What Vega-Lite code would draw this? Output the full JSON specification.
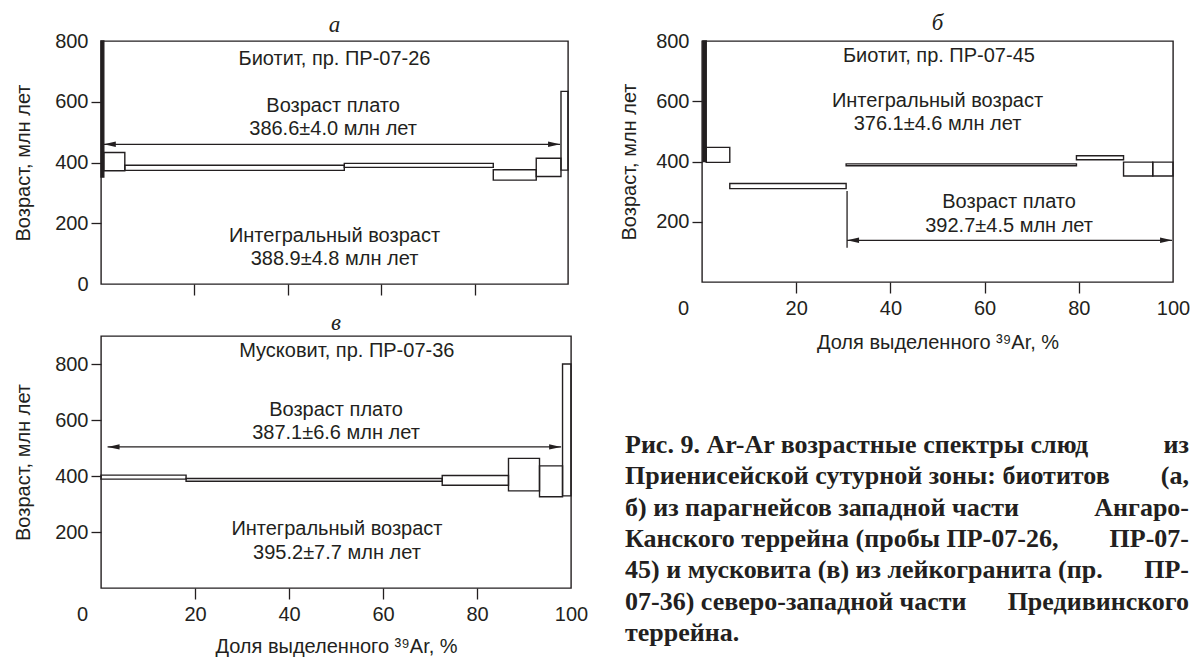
{
  "$schema": "https://vega.github.io/schema/vega-lite/v6.json",
  "background": "white",
  "padding": {"left": 12, "top": 11, "right": 0, "bottom": 0},
  "spacing": 29,
  "config": {
    "font": "Liberation Sans",
    "view": {"stroke": "#231f20", "strokeWidth": 1.4},
    "axis": {"domain": false, "grid": false, "labelOverlap": false, "labelFlush": false, "tickColor": "#231f20", "tickWidth": 1.3, "tickSize": 10, "labelColor": "#231f20", "titleColor": "#231f20", "labelFont": "Liberation Sans", "labelFontSize": 20, "titleFont": "Liberation Sans", "titleFontSize": 20, "titleFontWeight": "normal"},
    "title": {"font": "Liberation Serif", "fontStyle": "italic", "fontSize": 23, "fontWeight": "normal", "color": "#231f20", "baseline": "alphabetic", "anchor": "middle"},
    "text": {"font": "Liberation Sans", "fontSize": 20, "color": "#231f20"}
  },
  "datasets": {
    "steps": [
      {"panel": "a", "x0": 0, "x1": 0.6, "lo": 352, "hi": 800},
      {"panel": "a", "x0": 0.6, "x1": 5.1, "lo": 373, "hi": 433},
      {"panel": "a", "x0": 5.1, "x1": 52.1, "lo": 374, "hi": 391},
      {"panel": "a", "x0": 52.1, "x1": 84.0, "lo": 384, "hi": 397},
      {"panel": "a", "x0": 84.0, "x1": 93.2, "lo": 342, "hi": 376},
      {"panel": "a", "x0": 93.2, "x1": 98.5, "lo": 354, "hi": 414},
      {"panel": "a", "x0": 98.5, "x1": 100, "lo": 375, "hi": 634},
      {"panel": "b", "x0": 0.2, "x1": 0.9, "lo": 400, "hi": 800},
      {"panel": "b", "x0": 0.9, "x1": 5.9, "lo": 397, "hi": 447},
      {"panel": "b", "x0": 5.9, "x1": 30.6, "lo": 310, "hi": 327},
      {"panel": "b", "x0": 30.6, "x1": 79.5, "lo": 386, "hi": 392},
      {"panel": "b", "x0": 79.5, "x1": 89.5, "lo": 406, "hi": 419},
      {"panel": "b", "x0": 89.5, "x1": 95.7, "lo": 352, "hi": 398},
      {"panel": "b", "x0": 95.7, "x1": 100, "lo": 352, "hi": 398},
      {"panel": "c", "x0": 0, "x1": 18.1, "lo": 389, "hi": 403},
      {"panel": "c", "x0": 18.1, "x1": 72.6, "lo": 381, "hi": 391},
      {"panel": "c", "x0": 72.6, "x1": 86.7, "lo": 367, "hi": 402},
      {"panel": "c", "x0": 86.7, "x1": 93.3, "lo": 347, "hi": 463},
      {"panel": "c", "x0": 93.3, "x1": 98.2, "lo": 326, "hi": 436},
      {"panel": "c", "x0": 98.2, "x1": 100, "lo": 329, "hi": 800}
    ],
    "rules": [
      {"panel": "a", "x0": 0.6, "x1": 98.3, "y0": 460, "y1": 460},
      {"panel": "b", "x0": 30.8, "x1": 99.8, "y0": 138.5, "y1": 138.5},
      {"panel": "b", "x0": 30.8, "x1": 30.8, "y0": 114, "y1": 302},
      {"panel": "c", "x0": 1.4, "x1": 97.9, "y0": 504, "y1": 504}
    ],
    "heads": [
      {"panel": "a", "x": 0.6, "y": 460, "dir": "L"},
      {"panel": "a", "x": 98.3, "y": 460, "dir": "R"},
      {"panel": "b", "x": 30.8, "y": 138.5, "dir": "L"},
      {"panel": "b", "x": 99.8, "y": 138.5, "dir": "R"},
      {"panel": "c", "x": 1.4, "y": 504, "dir": "L"},
      {"panel": "c", "x": 97.9, "y": 504, "dir": "R"}
    ],
    "labels": [
      {"panel": "a", "x": 50, "y": 740, "text": "Биотит, пр. ПР-07-26"},
      {"panel": "a", "x": 49.7, "y": 587, "text": "Возраст плато"},
      {"panel": "a", "x": 49.7, "y": 510, "text": "386.6±4.0 млн лет"},
      {"panel": "a", "x": 50, "y": 159, "text": "Интегральный возраст"},
      {"panel": "a", "x": 50, "y": 82, "text": "388.9±4.8 млн лет"},
      {"panel": "b", "x": 50.3, "y": 751, "text": "Биотит, пр. ПР-07-45"},
      {"panel": "b", "x": 50, "y": 602, "text": "Интегральный возраст"},
      {"panel": "b", "x": 50, "y": 524, "text": "376.1±4.6 млн лет"},
      {"panel": "b", "x": 65.2, "y": 264, "text": "Возраст плато"},
      {"panel": "b", "x": 65.2, "y": 186, "text": "392.7±4.5 млн лет"},
      {"panel": "c", "x": 52.3, "y": 845, "text": "Мусковит, пр. ПР-07-36"},
      {"panel": "c", "x": 50, "y": 637, "text": "Возраст плато"},
      {"panel": "c", "x": 50, "y": 554, "text": "387.1±6.6 млн лет"},
      {"panel": "c", "x": 50.2, "y": 210, "text": "Интегральный возраст"},
      {"panel": "c", "x": 50.2, "y": 125, "text": "395.2±7.7 млн лет"}
    ],
    "caption": [
      {"line": 1, "left": "Рис. 9. Ar-Ar возрастные спектры слюд", "right": "из"},
      {"line": 2, "left": "Приенисейской сутурной зоны: биотитов", "right": "(а,"},
      {"line": 3, "left": "б) из парагнейсов западной части", "right": "Ангаро-"},
      {"line": 4, "left": "Канского террейна (пробы ПР-07-26,", "right": "ПР-07-"},
      {"line": 5, "left": "45) и мусковита (в) из лейкогранита (пр.", "right": "ПР-"},
      {"line": 6, "left": "07-36) северо-западной части", "right": "Предивинского"},
      {"line": 7, "left": "террейна.", "right": ""}
    ]
  },
  "hconcat": [
    {
      "spacing": 14,
      "vconcat": [
        {
          "title": {"text": "а", "offset": -6},
          "width": 467,
          "height": 243,
          "layer": [
            {
              "data": {"name": "steps"},
              "transform": [{"filter": "datum.panel == 'a'"}],
              "mark": {"type": "rect", "fill": "#231f20", "stroke": "#231f20", "strokeWidth": 1.4},
              "encoding": {
                "x": {"field": "x0", "type": "quantitative", "scale": {"domain": [0, 100], "nice": false},
                      "axis": {"values": [20, 40, 60, 80], "labels": false, "title": null, "tickSize": 11}},
                "x2": {"field": "x1"},
                "y": {"field": "lo", "type": "quantitative", "scale": {"domain": [0, 800], "nice": false},
                      "axis": {"values": [0, 100, 200, 300, 400, 500, 600, 700, 800], "labelOverlap": false,
                               "labelExpr": "datum.value % 200 == 0 ? datum.label : ''",
                               "tickOpacity": {"condition": {"test": "datum.value == 0 || datum.value == 800", "value": 0}, "value": 1},
                               "labelPadding": 3, "title": "Возраст,   млн лет", "titlePadding": 21}},
                "y2": {"field": "hi"},
                "fillOpacity": {"condition": {"test": "datum.x1 - datum.x0 < 1", "value": 1}, "value": 0}
              }
            },
            {
              "data": {"name": "rules"},
              "transform": [{"filter": "datum.panel == 'a'"}],
              "mark": {"type": "rule", "stroke": "#231f20", "strokeWidth": 1.3},
              "encoding": {"x": {"field": "x0", "type": "quantitative"}, "x2": {"field": "x1"}, "y": {"field": "y0", "type": "quantitative"}, "y2": {"field": "y1"}}
            },
            {
              "data": {"name": "heads"},
              "transform": [{"filter": "datum.panel == 'a'"}],
              "mark": {"type": "point", "filled": true, "color": "#231f20", "size": 144, "opacity": 1},
              "encoding": {"x": {"field": "x", "type": "quantitative"}, "y": {"field": "y", "type": "quantitative"},
                           "shape": {"field": "dir", "type": "nominal", "scale": {"domain": ["L", "R"], "range": ["M0,0L2,-0.45L2,0.45Z", "M0,0L-2,-0.45L-2,0.45Z"]}, "legend": null}}
            },
            {
              "data": {"name": "labels"},
              "transform": [{"filter": "datum.panel == 'a'"}],
              "mark": {"type": "text", "align": "center", "baseline": "middle"},
              "encoding": {"x": {"field": "x", "type": "quantitative"}, "y": {"field": "y", "type": "quantitative"}, "text": {"field": "text"}}
            }
          ]
        },
        {
          "title": {"text": "в", "offset": 1},
          "width": 470,
          "height": 252,
          "layer": [
            {
              "data": {"name": "steps"},
              "transform": [{"filter": "datum.panel == 'c'"}],
              "mark": {"type": "rect", "fill": "#231f20", "stroke": "#231f20", "strokeWidth": 1.4},
              "encoding": {
                "x": {"field": "x0", "type": "quantitative", "scale": {"domain": [0, 100], "nice": false},
                      "axis": {"values": [0, 20, 40, 60, 80, 100], "tickSize": 11, "labelPadding": 5, "labelOverlap": false,
                               "tickOpacity": {"condition": {"test": "datum.value == 0 || datum.value == 100", "value": 0}, "value": 1},
                               "labelOffset": {"condition": {"test": "datum.value == 0", "value": -19}, "value": 0},
                               "title": "Доля выделенного ³⁹Ar, %", "titlePadding": 12}},
                "x2": {"field": "x1"},
                "y": {"field": "lo", "type": "quantitative", "scale": {"domain": [0, 900], "nice": false},
                      "axis": {"values": [0, 100, 200, 300, 400, 500, 600, 700, 800, 900], "labelOverlap": false,
                               "labelExpr": "datum.value % 200 == 0 && datum.value > 0 ? datum.label : ''",
                               "tickOpacity": {"condition": {"test": "datum.value == 0 || datum.value == 900", "value": 0}, "value": 1},
                               "labelPadding": 3, "title": "Возраст,   млн лет", "titlePadding": 21}},
                "y2": {"field": "hi"},
                "fillOpacity": {"condition": {"test": "datum.x1 - datum.x0 < 1", "value": 1}, "value": 0}
              }
            },
            {
              "data": {"name": "rules"},
              "transform": [{"filter": "datum.panel == 'c'"}],
              "mark": {"type": "rule", "stroke": "#231f20", "strokeWidth": 1.3},
              "encoding": {"x": {"field": "x0", "type": "quantitative"}, "x2": {"field": "x1"}, "y": {"field": "y0", "type": "quantitative"}, "y2": {"field": "y1"}}
            },
            {
              "data": {"name": "heads"},
              "transform": [{"filter": "datum.panel == 'c'"}],
              "mark": {"type": "point", "filled": true, "color": "#231f20", "size": 144, "opacity": 1},
              "encoding": {"x": {"field": "x", "type": "quantitative"}, "y": {"field": "y", "type": "quantitative"},
                           "shape": {"field": "dir", "type": "nominal", "scale": {"domain": ["L", "R"], "range": ["M0,0L2,-0.45L2,0.45Z", "M0,0L-2,-0.45L-2,0.45Z"]}, "legend": null}}
            },
            {
              "data": {"name": "labels"},
              "transform": [{"filter": "datum.panel == 'c'"}],
              "mark": {"type": "text", "align": "center", "baseline": "middle"},
              "encoding": {"x": {"field": "x", "type": "quantitative"}, "y": {"field": "y", "type": "quantitative"}, "text": {"field": "text"}}
            }
          ]
        }
      ]
    },
    {
      "spacing": 78,
      "vconcat": [
        {
          "title": {"text": "б", "offset": -4},
          "width": 471,
          "height": 241,
          "layer": [
            {
              "data": {"name": "steps"},
              "transform": [{"filter": "datum.panel == 'b'"}],
              "mark": {"type": "rect", "fill": "#231f20", "stroke": "#231f20", "strokeWidth": 1.4},
              "encoding": {
                "x": {"field": "x0", "type": "quantitative", "scale": {"domain": [0, 100], "nice": false},
                      "axis": {"values": [0, 20, 40, 60, 80, 100], "tickSize": 11, "labelPadding": 5, "labelOverlap": false,
                               "tickOpacity": {"condition": {"test": "datum.value == 0 || datum.value == 100", "value": 0}, "value": 1},
                               "labelOffset": {"condition": {"test": "datum.value == 0", "value": -19}, "value": 0},
                               "title": "Доля выделенного ³⁹Ar, %", "titlePadding": 14}},
                "x2": {"field": "x1"},
                "y": {"field": "lo", "type": "quantitative", "scale": {"domain": [0, 800], "nice": false},
                      "axis": {"values": [0, 100, 200, 300, 400, 500, 600, 700, 800], "labelOverlap": false,
                               "labelExpr": "datum.value % 200 == 0 && datum.value > 0 ? datum.label : ''",
                               "tickOpacity": {"condition": {"test": "datum.value == 0 || datum.value == 800", "value": 0}, "value": 1},
                               "labelPadding": 3, "title": "Возраст,   млн лет", "titlePadding": 16}},
                "y2": {"field": "hi"},
                "fillOpacity": {"condition": {"test": "datum.x1 - datum.x0 < 1", "value": 1}, "value": 0}
              }
            },
            {
              "data": {"name": "rules"},
              "transform": [{"filter": "datum.panel == 'b'"}],
              "mark": {"type": "rule", "stroke": "#231f20", "strokeWidth": 1.3},
              "encoding": {"x": {"field": "x0", "type": "quantitative"}, "x2": {"field": "x1"}, "y": {"field": "y0", "type": "quantitative"}, "y2": {"field": "y1"}}
            },
            {
              "data": {"name": "heads"},
              "transform": [{"filter": "datum.panel == 'b'"}],
              "mark": {"type": "point", "filled": true, "color": "#231f20", "size": 144, "opacity": 1},
              "encoding": {"x": {"field": "x", "type": "quantitative"}, "y": {"field": "y", "type": "quantitative"},
                           "shape": {"field": "dir", "type": "nominal", "scale": {"domain": ["L", "R"], "range": ["M0,0L2,-0.45L2,0.45Z", "M0,0L-2,-0.45L-2,0.45Z"]}, "legend": null}}
            },
            {
              "data": {"name": "labels"},
              "transform": [{"filter": "datum.panel == 'b'"}],
              "mark": {"type": "text", "align": "center", "baseline": "middle"},
              "encoding": {"x": {"field": "x", "type": "quantitative"}, "y": {"field": "y", "type": "quantitative"}, "text": {"field": "text"}}
            }
          ]
        },
        {
          "width": 487,
          "height": 220,
          "view": {"stroke": null},
          "data": {"name": "caption"},
          "layer": [
            {
              "mark": {"type": "text", "align": "left", "baseline": "alphabetic", "font": "Liberation Serif", "fontWeight": "bold", "fontSize": 26, "dx": -77},
              "encoding": {
                "x": {"datum": 0, "type": "quantitative", "scale": {"domain": [0, 1]}, "axis": null},
                "y": {"field": "line", "type": "quantitative", "scale": {"domain": [0.5, 7.5], "reverse": true}, "axis": null},
                "text": {"field": "left"}
              }
            },
            {
              "mark": {"type": "text", "align": "right", "baseline": "alphabetic", "font": "Liberation Serif", "fontWeight": "bold", "fontSize": 26},
              "encoding": {
                "x": {"datum": 1, "type": "quantitative"},
                "y": {"field": "line", "type": "quantitative"},
                "text": {"field": "right"}
              }
            }
          ]
        }
      ]
    }
  ]
}
